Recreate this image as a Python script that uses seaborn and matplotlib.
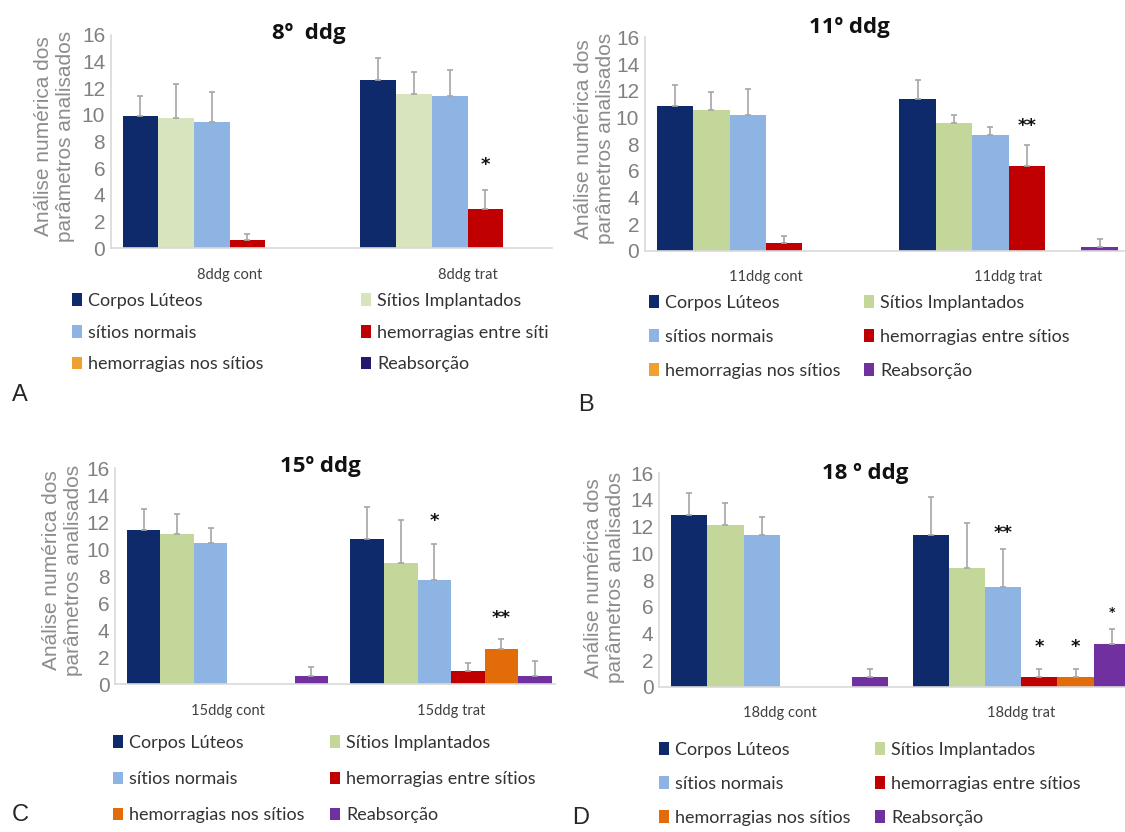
import pandas as pd
import numpy as np
import matplotlib.pyplot as plt
import seaborn as sns
from matplotlib.patches import Patch

sns.set_style("white")
plt.rcParams['font.family'] = ['Lato', 'DejaVu Sans']

W, H = 1125, 832

# -----------------------------------------
# DATA
# -----------------------------------------
parametros = ["Corpos Lúteos", "Sítios Implantados", "sítios normais",
              "hemorragias entre sítios", "hemorragias nos sítios", "Reabsorção"]
rotulos_A = ["Corpos Lúteos", "Sítios Implantados", "sítios normais",
             "hemorragias entre síti", "hemorragias nos sítios", "Reabsorção"]

grupos_A = ["8ddg cont", "8ddg trat"]
A_cont = [9.9, 9.8, 9.5, 0.6, 0, 0]
A_trat = [12.6, 11.6, 11.4, 2.95, 0, 0]
A_cont_err = [1.5, 2.5, 2.2, 0.45, 0, 0]
A_trat_err = [1.65, 1.65, 2.0, 1.45, 0, 0]

grupos_B = ["11ddg cont", "11ddg trat"]
B_cont = [10.85, 10.55, 10.2, 0.55, 0, 0]
B_trat = [11.4, 9.6, 8.7, 6.35, 0, 0.25]
B_cont_err = [1.55, 1.35, 1.9, 0.55, 0, 0]
B_trat_err = [1.4, 0.6, 0.6, 1.55, 0, 0.6]

grupos_C = ["15ddg cont", "15ddg trat"]
C_cont = [11.4, 11.1, 10.45, 0, 0, 0.65]
C_trat = [10.8, 9.0, 7.7, 1.0, 2.65, 0.65]
C_cont_err = [1.6, 1.5, 1.15, 0, 0, 0.6]
C_trat_err = [2.3, 3.2, 2.7, 0.6, 0.7, 1.05]

grupos_D = ["18ddg cont", "18ddg trat"]
D_cont = [12.9, 12.1, 11.4, 0, 0, 0.7]
D_trat = [11.4, 8.9, 7.5, 0.7, 0.7, 3.2]
D_cont_err = [1.65, 1.65, 1.3, 0, 0, 0.6]
D_trat_err = [2.8, 3.35, 2.8, 0.6, 0.6, 1.1]

# (grupo, parametro, altura, texto, tamanho)
estrelas_A = [(1, 3, 6.25, "*", 13)]
estrelas_B = [(1, 3, 9.35, "**", 13)]
estrelas_C = [(1, 2, 12.1, "*", 13), (1, 4, 4.9, "**", 13)]
estrelas_D = [(1, 2, 11.55, "**", 13), (1, 3, 2.95, "*", 13),
              (1, 4, 2.95, "*", 13), (1, 5, 5.55, "*", 9)]

cores_A = ["#0e2a6b", "#d7e4bd", "#8db4e2", "#c00000", "#eea033", "#231a6e"]
cores_B = ["#0e2a6b", "#c4d79b", "#8db4e2", "#c00000", "#f0a030", "#7030a0"]
cores_CD = ["#0e2a6b", "#c4d79b", "#8db4e2", "#c00000", "#e36c0a", "#7030a0"]

fig = plt.figure(figsize=(W / 100, H / 100), dpi=100)


def painel(rect, grupos, cont, trat, cont_err, trat_err, cores, xlim,
           estrelas, titulo, titulo_xy, ylab_xy, letra, letra_xy):
    ax = fig.add_axes(rect)
    df = pd.DataFrame({
        "grupo": np.repeat(grupos, len(parametros)),
        "parametro": parametros * 2,
        "valor": cont + trat,
    })
    sns.barplot(data=df, x="grupo", y="valor", hue="parametro",
                order=grupos, hue_order=parametros,
                palette=dict(zip(parametros, cores)), width=0.9,
                saturation=1, errorbar=None, legend=False, linewidth=0, ax=ax)

    barras = list(ax.containers)
    erros = [cont_err, trat_err]
    for h, cont_barras in enumerate(barras):
        for g, bar in enumerate(cont_barras):
            e = erros[g][h]
            if e > 0:
                xc = bar.get_x() + bar.get_width() / 2
                ax.errorbar(xc, bar.get_height(), yerr=[[0], [e]],
                            color="#a6a6a6", lw=1.2, capsize=2.5,
                            capthick=1.2)
    for g, h, y, s, tam in estrelas:
        bar = barras[h][g]
        ax.text(bar.get_x() + bar.get_width() / 2, y, s, ha="center",
                va="center", fontsize=tam, fontweight="bold",
                family="DejaVu Sans", color="#111111")

    ax.set_ylim(0, 16)
    ax.set_xlim(*xlim)
    ax.set_yticks(range(0, 17, 2))
    for lab in ax.get_yticklabels():
        lab.set_family("Liberation Sans")
    ax.tick_params(axis="y", length=0, pad=4, labelsize=15,
                   labelcolor="#808080")
    ax.tick_params(axis="x", length=0, pad=14, labelsize=10.5,
                   labelcolor="#404040")
    ax.set_xlabel("")
    ax.set_ylabel("Análise numérica dos\nparâmetros analisados",
                  fontsize=15, color="#8c8c8c", family="Liberation Sans",
                  va="center")
    ax.yaxis.set_label_coords(*ylab_xy)
    sns.despine(ax=ax)
    for s in ["left", "bottom"]:
        ax.spines[s].set_color("#d9d9d9")
        ax.spines[s].set_linewidth(1.2)

    fig.text(titulo_xy[0] / W, 1 - titulo_xy[1] / H, titulo, ha="center",
             va="center", fontsize=16, fontweight="bold",
             family=["Open Sans", "DejaVu Sans"], color="#111111")
    fig.text(letra_xy[0] / W, 1 - letra_xy[1] / H, letra, ha="left",
             va="center", fontsize=17, family="Liberation Sans")
    return ax


def legenda(x1, x2, y_top, cores, rotulos, espaco):
    for x, idxs in ((x1, [0, 2, 4]), (x2, [1, 3, 5])):
        handles = [Patch(facecolor=cores[i], edgecolor="none") for i in idxs]
        fig.legend(handles, [rotulos[i] for i in idxs], loc="upper left",
                   bbox_to_anchor=(x / W, 1 - y_top / H), frameon=False,
                   borderpad=0, borderaxespad=0, handlelength=0.55,
                   handleheight=0.7, handletextpad=0.35,
                   labelspacing=espaco, fontsize=13, labelcolor="#333333")


painel([110.7 / W, 1 - 248.3 / H, 441.3 / W, 213.3 / H], grupos_A,
       A_cont, A_trat, A_cont_err, A_trat_err, cores_A, (-0.5, 1.355),
       estrelas_A, "8º  ddg", (309, 33), (-0.127, 0.526), "A", (12, 395))
legenda(72, 361, 293, cores_A, rotulos_A, 0.87)

painel([644.7 / W, 1 - 250.7 / H, 480.3 / W, 213.3 / H], grupos_B,
       B_cont, B_trat, B_cont_err, B_trat_err, cores_B, (-0.5, 1.48),
       estrelas_B, "11º ddg", (849, 27), (-0.1045, 0.524), "B", (578, 405))
legenda(649, 864, 295, cores_B, parametros, 1.0)

painel([115 / W, 1 - 684.3 / H, 440 / W, 216 / H], grupos_C,
       C_cont, C_trat, C_cont_err, C_trat_err, cores_CD, (-0.503, 1.465),
       estrelas_C, "15º ddg", (320, 467), (-0.119, 0.529), "C", (12, 815))
legenda(113, 330, 735, cores_CD, parametros, 1.12)

painel([659 / W, 1 - 686.7 / H, 466 / W, 213.4 / H], grupos_D,
       D_cont, D_trat, D_cont_err, D_trat_err, cores_CD, (-0.5, 1.43),
       estrelas_D, "18 º ddg", (865, 473), (-0.117, 0.51), "D", (572, 818))
legenda(659, 875, 742, cores_CD, parametros, 1.0)

fig.savefig("out.png", dpi=100)
